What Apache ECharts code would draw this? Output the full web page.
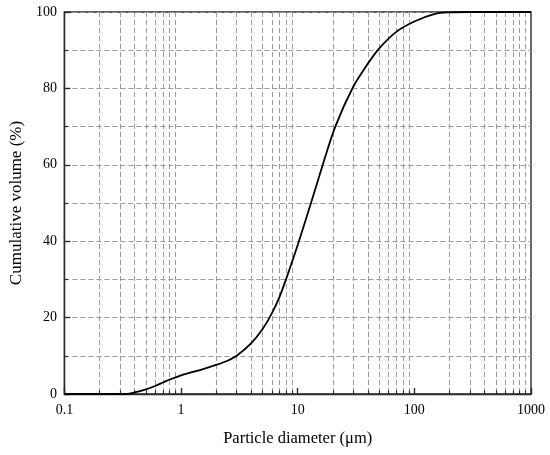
<!DOCTYPE html>
<html>
<head>
<meta charset="utf-8">
<script src="https://cdn.jsdelivr.net/npm/echarts@6/dist/echarts.min.js"></script>
<style>
html,body{margin:0;padding:0;background:#fff;}
#chart{width:550px;height:455px;}
</style>
</head>
<body>
<div id="chart"></div>
<script>
// Particle diameter (µm)
var diameters = [0.1, 0.3, 0.35, 0.4, 0.5, 0.6, 0.7, 0.8, 1, 1.2, 1.5, 2, 2.5, 3, 4, 5, 6, 7, 8, 10, 13, 16.4, 21, 30, 40, 50, 70, 100, 150, 200, 300, 1000];
// Cumulative volume (%)
var cumulative = [0, 0, 0.05, 0.4, 1.2, 2.1, 3.0, 3.8, 4.9, 5.6, 6.4, 7.6, 8.7, 10, 13.3, 17.0, 21.1, 25.5, 30.3, 39, 50, 60, 70, 80.5, 86.5, 90.5, 94.8, 97.5, 99.5, 99.9, 100, 100];
// Major x ticks (labelled decades)
var xMajorTicks = [0.1, 1, 10, 100, 1000];
// Minor x ticks / vertical grid lines
var xMinorTicks = [];
[0.1, 1, 10, 100].forEach(function (dec) {
  for (var k = 2; k <= 9; k++) xMinorTicks.push(+(dec * k).toPrecision(3));
});

var serif = 'Liberation Serif, Times New Roman, serif';
var gridDash = { color: '#9a9a9a', width: 1, type: [5, 3] };
var axisDark = { color: '#2a2a2a', width: 1.4 };

var chart = echarts.init(document.getElementById('chart'), null, { renderer: 'canvas' });
chart.setOption({
  animation: false,
  backgroundColor: '#fff',
  grid: { left: 59.5, right: 19, top: 12, bottom: 61, show: true, borderColor: '#2a2a2a', borderWidth: 1.4, backgroundColor: 'transparent' },
  xAxis: [
    {
      type: 'log', logBase: 10, min: 0.1, max: 1000,
      name: 'Particle diameter (\u03bcm)', nameLocation: 'middle', nameGap: 36,
      nameTextStyle: { fontFamily: serif, fontSize: 16.5, color: '#000' },
      axisLine: { show: true, lineStyle: axisDark },
      axisTick: { show: true, inside: true, length: 6, lineStyle: axisDark, customValues: xMajorTicks },
      axisLabel: { fontFamily: serif, fontSize: 14, color: '#000', margin: 9, customValues: xMajorTicks,
        formatter: function (v) { return String(v); } },
      splitLine: { show: false },
      minorTick: { show: false }
    },
    {
      type: 'log', logBase: 10, min: 0.1, max: 1000, position: 'bottom',
      axisLine: { show: false },
      axisTick: { show: true, inside: true, length: 3.5, lineStyle: { color: '#2a2a2a', width: 1.2 }, customValues: xMinorTicks },
      axisLabel: { show: false, customValues: xMinorTicks },
      splitLine: { show: true, lineStyle: gridDash }
    }
  ],
  yAxis: {
    type: 'value', min: 0, max: 100, interval: 20,
    name: 'Cumulative volume (%)', nameLocation: 'middle', nameGap: 37,
    nameTextStyle: { fontFamily: serif, fontSize: 17, color: '#000' },
    axisLine: { show: true, lineStyle: axisDark },
    axisTick: { show: true, inside: true, length: 6, lineStyle: axisDark },
    axisLabel: { fontFamily: serif, fontSize: 14, color: '#000', margin: 7.5 },
    splitLine: { show: true, lineStyle: gridDash },
    minorTick: { show: true, splitNumber: 2, length: 3.5, lineStyle: { color: '#2a2a2a', width: 1.2 } },
    minorSplitLine: { show: true, lineStyle: gridDash }
  },
  series: [{
    type: 'line',
    xAxisIndex: 0,
    data: diameters.map(function (d, i) { return [d, cumulative[i]]; }),
    smooth: 0.3,
    showSymbol: false,
    lineStyle: { color: '#000', width: 1.8 },
    z: 5
  }]
});
</script>
</body>
</html>
